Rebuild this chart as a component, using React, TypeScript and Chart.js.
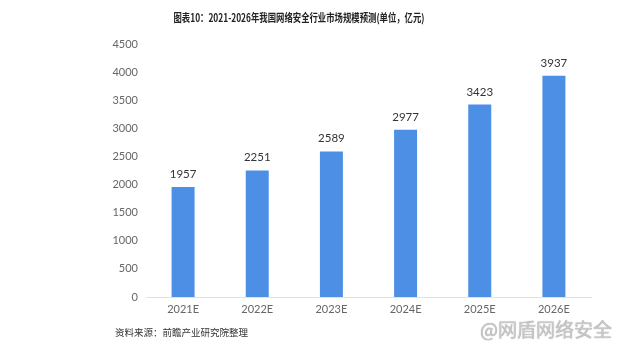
import React, { useEffect, useRef } from "react";
import { Chart, registerables } from "chart.js";

Chart.register(...registerables);

const categories = ["2021E", "2022E", "2023E", "2024E", "2025E", "2026E"];
const marketSize = [1957, 2251, 2589, 2977, 3423, 3937];
const yMin = 0;
const yMax = 4500;
const yStep = 500;

const titleText = "图表10：2021-2026年我国网络安全行业市场规模预测(单位，亿元)";
const sourceText = "资料来源：前瞻产业研究院整理";
const watermarkText = "@网盾网络安全";

const valueLabels = {
  id: "valueLabels",
  afterDatasetsDraw(chart: any) {
    const ctx = chart.ctx;
    const meta = chart.getDatasetMeta(0);
    ctx.save();
    ctx.font = "11.5px Lato, 'Noto Sans', sans-serif";
    ctx.fillStyle = "#333333";
    ctx.textAlign = "center";
    ctx.textBaseline = "bottom";
    meta.data.forEach((bar: any, i: number) => {
      ctx.fillText(String(marketSize[i]), bar.x, bar.y - 7);
    });
    ctx.restore();
  },
};

export default function App() {
  const ref = useRef<HTMLCanvasElement | null>(null);
  useEffect(() => {
    if (!ref.current) return;
    const chart = new Chart(ref.current, {
      type: "bar",
      data: {
        labels: categories,
        datasets: [
          {
            data: marketSize,
            backgroundColor: "#4d8fe4",
            categoryPercentage: 1,
            barPercentage: 0.31,
          },
        ],
      },
      options: {
        animation: false,
        responsive: false,
        layout: { padding: { top: 44, right: 49, left: 0, bottom: 0 } },
        plugins: { legend: { display: false }, tooltip: { enabled: false } },
        scales: {
          x: {
            grid: { display: false, drawTicks: false },
            border: { display: true, color: "#e2e2e2" },
            ticks: {
              color: "#666666",
              padding: 6,
              font: { size: 11, family: "Lato, 'Noto Sans', sans-serif" },
            },
            afterFit: (s: any) => {
              s.height = 55;
            },
          },
          y: {
            min: yMin,
            max: yMax,
            grid: { display: false, drawTicks: false },
            border: { display: false },
            ticks: {
              stepSize: yStep,
              color: "#666666",
              padding: 8,
              font: { size: 11, family: "Lato, 'Noto Sans', sans-serif" },
              callback: (v: any) => String(v),
            },
            afterFit: (s: any) => {
              s.width = 146;
            },
          },
        },
      },
      plugins: [valueLabels],
    });
    return () => chart.destroy();
  }, []);

  return (
    <div style={{ position: "absolute", left: 0, top: 0, width: 640, height: 352, background: "#ffffff", overflow: "hidden" }}>
      <canvas ref={ref} width={640} height={352} style={{ position: "absolute", left: 0, top: 0, width: 640, height: 352 }} />
      <div
        style={{
          position: "absolute",
          left: 9,
          width: 580,
          top: 9,
          textAlign: "center",
          font: "bold 11px 'Noto Sans CJK SC', sans-serif",
          color: "#222222",
          whiteSpace: "nowrap",
          transform: "scaleX(0.76)",
          transformOrigin: "290px 0",
        }}
      >
        {titleText}
      </div>
      <div
        style={{
          position: "absolute",
          left: 115,
          top: 325,
          font: "9.5px 'Noto Sans CJK SC', sans-serif",
          color: "#333333",
          whiteSpace: "nowrap",
        }}
      >
        {sourceText}
      </div>
      <div
        style={{
          position: "absolute",
          left: 480,
          top: 315,
          font: "19px 'Noto Sans CJK SC', sans-serif",
          color: "#c8c8c8",
          textShadow: "0 0 1px #888",
          whiteSpace: "nowrap",
        }}
      >
        {watermarkText}
      </div>
    </div>
  );
}
